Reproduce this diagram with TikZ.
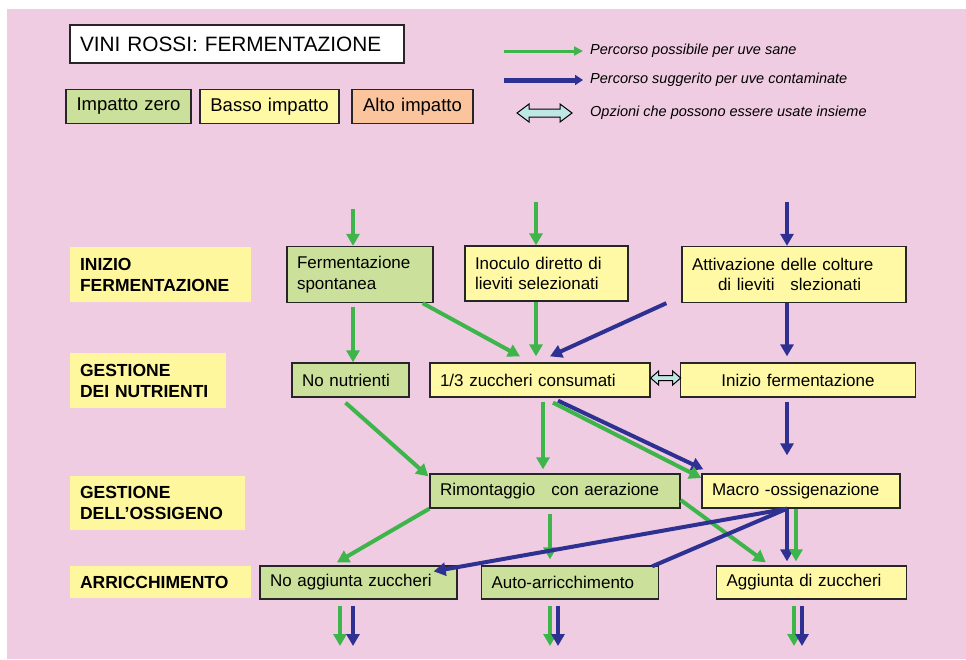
\documentclass[tikz,border=0pt]{standalone}
\usepackage{fontspec}
\setmainfont{Liberation Sans}
\usetikzlibrary{arrows.meta,calc}
\definecolor{pinkbg}{HTML}{EFCCE2}
\definecolor{boxgreen}{HTML}{CBE09A}
\definecolor{boxyellow}{HTML}{FFF9A6}
\definecolor{boxorange}{HTML}{FBC49C}
\definecolor{lblyellow}{HTML}{FFF79E}
\definecolor{arrgreen}{HTML}{3DB54A}
\definecolor{arrblue}{HTML}{2E3192}
\definecolor{dblcyan}{HTML}{BFE7E6}
\tikzset{
  box/.style={draw=black!85, line width=1.3pt, rectangle, align=left, inner xsep=10pt, inner ysep=0pt, font=\fontsize{17}{20.5}\selectfont},
  gbox/.style={box, fill=boxgreen},
  ybox/.style={box, fill=boxyellow},
  lbl/.style={fill=lblyellow, rectangle, align=left, inner xsep=10pt, inner ysep=0pt, font=\bfseries\fontsize{17.5}{21}\selectfont},
  legtext/.style={anchor=west, inner sep=0pt, font=\itshape\fontsize{14.5}{17}\selectfont},
  garr/.style={draw=arrgreen, line width=4pt, -{Triangle[length=12pt,width=13pt]}},
  barr/.style={draw=arrblue, line width=4pt, -{Triangle[length=12pt,width=13pt]}},
  bline/.style={draw=arrblue, line width=4pt},
  dblarr/.style={draw=black, line width=1pt, fill=dblcyan, line join=miter},
}
\begin{document}
\begin{tikzpicture}[x=1pt,y=-1pt]
\useasboundingbox (0,0) rectangle (966,659);
\fill[white] (0,0) rectangle (966,659);
\fill[pinkbg] (7,9) rectangle (966,659);

% title and legend boxes
\node[box, fill=white, text width=314pt, minimum height=38pt, font=\fontsize{20.8}{24}\selectfont] (title) at (237,44) {VINI ROSSI: FERMENTAZIONE};
\node[gbox, align=center, text width=105pt, minimum height=34pt, font=\fontsize{18.5}{22}\selectfont] (lz) at (128.5,106.5) {Impatto zero};
\node[ybox, align=center, text width=119pt, minimum height=34pt, font=\fontsize{18.5}{22}\selectfont] (lb) at (269.5,106.5) {Basso impatto};
\node[box, fill=boxorange, align=center, text width=101pt, minimum height=34pt, font=\fontsize{18.5}{22}\selectfont] (la) at (412.5,106.5) {Alto impatto};

% legend arrows
\node[legtext] (t1) at (590,51) {Percorso possibile per uve sane};
\node[legtext] (t2) at (590,80) {Percorso suggerito per uve contaminate};
\node[legtext] (t3) at (590,113) {Opzioni che possono essere usate insieme};
\draw[draw=arrgreen, line width=3pt, -{Triangle[length=9pt,width=9pt]}] ($(t1.west)+(-86,0)$) -- ($(t1.west)+(-7,0)$);
\draw[draw=arrblue, line width=5pt, -{Triangle[length=8pt,width=10pt]}] ($(t2.west)+(-86,0)$) -- ($(t2.west)+(-7,0)$);
\draw[dblarr] ($(t3.west)+(-73,0)$) -- ++(12,-9) -- ++(0,5) -- ++(31,0) -- ++(0,-5) -- ++(12,9) -- ++(-12,9) -- ++(0,-5) -- ++(-31,0) -- ++(0,5) -- cycle;

% row labels
\node[lbl, text width=161pt, minimum height=55pt] (L1) at (160.5,274.5) {INIZIO\\FERMENTAZIONE};
\node[lbl, text width=136pt, minimum height=55pt] (L2) at (148,380.5) {GESTIONE\\DEI NUTRIENTI};
\node[lbl, text width=155pt, minimum height=54pt] (L3) at (157.5,503) {GESTIONE\\DELL’OSSIGENO};
\node[lbl, text width=161pt, minimum height=32pt] (L4) at (160.5,582) {ARRICCHIMENTO};

% row 1
\node[gbox, text width=126pt, minimum height=56pt] (fs) at (360,274.5) {Fermentazione\\spontanea};
\node[ybox, text width=143pt, minimum height=55pt] (inoc) at (546.5,273.5) {Inoculo diretto di\\lieviti selezionati};
\node[ybox, text width=204pt, minimum height=56pt] (attiv) at (794,274.5) {Attivazione delle colture\\\hspace*{26pt}di lieviti\hspace{10pt} slezionati};
% row 2
\node[gbox, text width=97pt, minimum height=34pt] (nn) at (350.5,380) {No nutrienti};
\node[ybox, text width=200pt, minimum height=34pt] (z13) at (540,380) {1/3 zuccheri consumati};
\node[ybox, align=center, text width=215pt, minimum height=34pt] (ifer) at (798,380) {Inizio fermentazione};
% row 3
\node[gbox, text width=230pt, minimum height=34pt] (rim) at (555,491) {Rimontaggio\hspace{16pt}con aerazione};
\node[ybox, text width=178pt, minimum height=34pt] (macro) at (801,491) {Macro -ossigenazione};
% row 4
\node[gbox, text width=177pt, minimum height=33pt] (nag) at (358.5,582.5) {No aggiunta zuccheri};
\node[gbox, text width=157pt, minimum height=33pt] (auto) at (570,582.5) {Auto-arricchimento};
\node[ybox, text width=170pt, minimum height=33pt] (agg) at (811.5,582.5) {Aggiunta di zuccheri};

% helper x positions
\coordinate (xa) at (353,0);
\coordinate (xb) at (536,0);
\coordinate (xc) at (787,0);
\coordinate (xd) at (543,0);
\coordinate (xe) at (550,0);
\coordinate (xf) at (796,0);

% incoming arrows
\coordinate (in1) at (353,209);
\coordinate (in2) at (536,202);
\coordinate (in3) at (787,202);
\draw[garr] (in1) -- (in1 |- fs.north);
\draw[garr] (in2) -- (in2 |- inoc.north);
\draw[barr] (in3) -- (in3 |- attiv.north);

% row 1 -> row 2
\draw[garr, shorten <=4pt] (fs.south -| xa) -- (nn.north -| xa);
\draw[garr] ($(fs.south east)+(-11,0)$) -- ($(z13.north)+(-20,-6)$);
\draw[garr] (inoc.south -| xb) -- ($(z13.north -| xb)+(0,-6)$);
\draw[barr] ($(attiv.south west)+(-15,0)$) -- ($(z13.north)+(10,-6)$);
\draw[barr] (attiv.south -| xc) -- ($(ifer.north -| xc)+(0,-6)$);
\draw[dblarr] ($(z13.east)+(0,-2)$) -- ++(8,-7) -- ++(0,4.5) -- ++(14,0) -- ++(0,-4.5) -- ++(8,7) -- ++(-8,7) -- ++(0,-4.5) -- ++(-14,0) -- ++(0,4.5) -- cycle;

% row 2 -> row 3
\draw[garr] ($(nn.south)+(-5,5)$) -- ($(rim.north west)+(-1,3)$);
\draw[garr] ($(z13.south -| xd)+(0,4)$) -- ($(rim.north -| xd)+(0,-4)$);
\draw[barr] ($(z13.south)+(18,3)$) -- ($(macro.north west)+(2,-4)$);
\draw[garr] ($(z13.south)+(13,5)$) -- ($(macro.west)+(0,-13)$);
\draw[barr, shorten <=4pt] (ifer.south -| xc) -- ($(macro.north -| xc)+(0,-18)$);

% row 3 -> row 4
\draw[garr] (rim.south west) -- ($(nag.north)+(-21.5,-3)$);
\draw[garr] ($(rim.south -| xe)+(0,5)$) -- ($(auto.north -| xe)+(0,-6)$);
\draw[garr] ($(rim.east)+(0,9)$) -- ($(agg.north west)+(50,-3)$);
\draw[barr] (macro.south -| xc) -- ($(nag.north east)+(-24,6)$);
\draw[bline] ($(auto.north east)+(-7,1)$) -- (macro.south -| xc);
\draw[barr] (macro.south -| xc) -- ($(agg.north -| xc)+(0,-4)$);
\draw[garr] (macro.south -| xf) -- ($(agg.north -| xf)+(0,-4)$);

% outgoing arrows
\coordinate (o1g) at (340,646);
\coordinate (o1b) at (353,646);
\coordinate (o2g) at (550,646);
\coordinate (o2b) at (558,646);
\coordinate (o3g) at (794,646);
\coordinate (o3b) at (802,646);
\draw[garr, shorten <=6pt] (nag.south -| o1g) -- (o1g);
\draw[barr, shorten <=6pt] (nag.south -| o1b) -- (o1b);
\draw[garr, shorten <=6pt] (auto.south -| o2g) -- (o2g);
\draw[barr, shorten <=6pt] (auto.south -| o2b) -- (o2b);
\draw[garr, shorten <=6pt] (agg.south -| o3g) -- (o3g);
\draw[barr, shorten <=6pt] (agg.south -| o3b) -- (o3b);
\end{tikzpicture}
\end{document}
